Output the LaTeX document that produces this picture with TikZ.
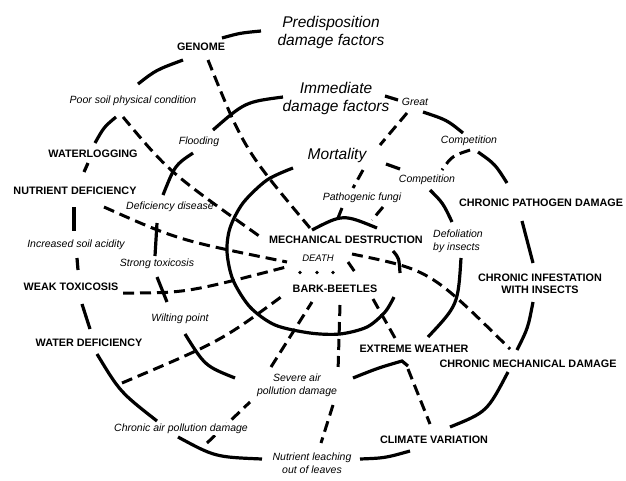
\documentclass[tikz,border=0pt]{standalone}
\usepackage{fontspec}
\setmainfont{Liberation Sans}
\tikzset{
  ring/.style={line width=3.2pt},
  link/.style={line width=3pt, dash pattern=on 11pt off 6pt},
  factor/.style={font=\fontsize{10.8}{12.5}\selectfont\bfseries, inner sep=0pt, align=center},
  cause/.style={font=\fontsize{10.5}{13}\selectfont\itshape, inner sep=0pt, align=center},
  level/.style={font=\fontsize{15.5}{18}\selectfont\itshape, inner sep=0pt, align=center}
}

\begin{document}
\begin{tikzpicture}[x=1pt, y=-1pt]
  \useasboundingbox (0,0) rectangle (626,480);

  % outer ring
  \draw[ring] (222,38) .. controls (240,33) .. (261,31);
  \draw[ring] (138,84) .. controls (156,70) .. (183,60);
  \draw[ring] (116,117) .. controls (104,127) .. (95,143);
  \draw[ring] (88,163) -- (84,172);
  \draw[ring] (74,207) -- (74,231);
  \draw[ring] (77,258) -- (78,270);
  \draw[ring] (82,304) -- (90,329);
  \draw[ring] (97,354) .. controls (120,392) .. (157,421);
  \draw[ring] (178,437) .. controls (215,457) .. (262,459);
  \draw[ring] (360,459) .. controls (385,458) .. (410,451);
  \draw[ring] (450,427) .. controls (487,412) .. (508,372);
  \draw[ring] (517,350) .. controls (528,328) .. (533,302);
  \draw[ring] (522,221) -- (533,263);
  \draw[ring] (478,152) .. controls (495,164) .. (507,183);
  \draw[ring] (423,112) .. controls (447,120) .. (463,133);
  \draw[ring] (385,96) -- (398,100);

  % middle ring
  \draw[ring] (283,97) .. controls (245,102) .. (213,130);
  \draw[ring] (193,153) .. controls (175,165) .. (163,195);
  \draw[ring] (157,223) -- (155,256);
  \draw[ring] (157,277) -- (167,302);
  \draw[ring] (185,334) .. controls (205,366) .. (235,378);
  \draw[ring] (353,378) .. controls (378,368) .. (402,361) -- (408,366);
  \draw[ring] (428,337) .. controls (458,305) .. (461,258);
  \draw[ring] (430,190) .. controls (443,203) .. (452,222);
  \draw[ring] (386,164) -- (400,169);

  % inner ring
  \draw[ring] plot[smooth] coordinates {(293,168) (267,180) (243,203) (230,228) (227,252)
    (233,280) (250,307) (275,325) (310,333) (340,334) (367,327) (385,312) (394,297)};
  \draw[ring] (312,230) .. controls (343,214) .. (377,228);
  \draw[ring] (393,251) .. controls (399,258) .. (400,273);

  % links to the centre
  \draw[link] (208,60) .. controls (244,149) .. (310,228);
  \draw[link] (123,117) .. controls (169,172) .. (262,238);
  \draw[link] (104,207) .. controls (178,240) .. (287,262);
  \draw[link] (123,293) .. controls (186,293) .. (290,266);
  \draw[link] (122,383) .. controls (221,341) .. (281,297);
  \foreach \x in {300,317,333}
    \fill (\x,272.5) circle (1.8);
  \draw[link] (348,262) -- (357,275);
  \draw[link] (373,299) -- (395,338);
  \draw[link] (352,254) .. controls (430,270) .. (510,349);

  % links to the bottom
  \draw[link] (207,443) -- (250,402);
  \draw[link] (271,367) -- (312,302);
  \draw[link] (340,305) -- (338,372);
  \draw[link] (333,405) -- (321,443);
  \draw[link] (408,369) -- (430,424);

  % links to the top
  \draw[link] (407,113) -- (380,145);
  \draw[link] (363,170) -- (353,188);
  \draw[link] (342,208) -- (338,218);
  \draw[link] (383,207) -- (372,220);
  \draw[link] (470,150) .. controls (452,156) .. (442,170);

  % level headings
  \node[level] (pred) at (331,32) {Predisposition\\damage factors};
  \node[level] (imm) at (336,98) {Immediate\\damage factors};
  \node[level] (mort) at (337,155) {Mortality};

  % predisposition factors
  \node[factor] (genome) at (201,47) {GENOME};
  \node[factor] (waterlog) at (93,154) {WATERLOGGING};
  \node[factor] (nutdef) at (75,191) {NUTRIENT DEFICIENCY};
  \node[factor] (weak) at (71,287) {WEAK TOXICOSIS};
  \node[factor] (waterdef) at (89,343) {WATER DEFICIENCY};
  \node[factor] (climate) at (434,440) {CLIMATE VARIATION};
  \node[factor] (chrmech) at (528,364) {CHRONIC MECHANICAL DAMAGE};
  \node[factor] (infest) at (540,284) {CHRONIC INFESTATION\\WITH INSECTS};
  \node[factor] (pathogen) at (541,203) {CHRONIC PATHOGEN DAMAGE};
  \node[factor] (extreme) at (414,349) {EXTREME WEATHER};
  \node[factor] (mech) at (346,240) {MECHANICAL DESTRUCTION};
  \node[factor] (bark) at (335,289) {BARK-BEETLES};

  % immediate factors
  \node[cause] (poor) at (133,101) {Poor soil physical condition};
  \node[cause] (flood) at (199,142) {Flooding};
  \node[cause] (defdis) at (170,207) {Deficiency disease};
  \node[cause] (acid) at (76,245) {Increased soil acidity};
  \node[cause] (strong) at (157,264) {Strong toxicosis};
  \node[cause] (wilt) at (180,319) {Wilting point};
  \node[cause, fill=white, inner sep=1.5pt] (chrair) at (181,429) {Chronic air pollution damage};
  \node[cause] (leach) at (312,463) {Nutrient leaching\\out of leaves};
  \node[cause] (severe) at (297,385) {Severe air\\pollution damage};
  \node[cause] (fungi) at (362,198) {Pathogenic fungi};
  \node[cause] (great) at (415,102) {Great};
  \node[cause] (comp1) at (469,141) {Competition};
  \node[cause] (comp2) at (427,180) {Competition};
  \node[cause, anchor=west, align=left] (defol) at (433,241) {Defoliation\\by insects};
  \node[cause, font=\fontsize{9.5}{10}\selectfont\itshape] (death) at (318,258) {DEATH};
\end{tikzpicture}
\end{document}
